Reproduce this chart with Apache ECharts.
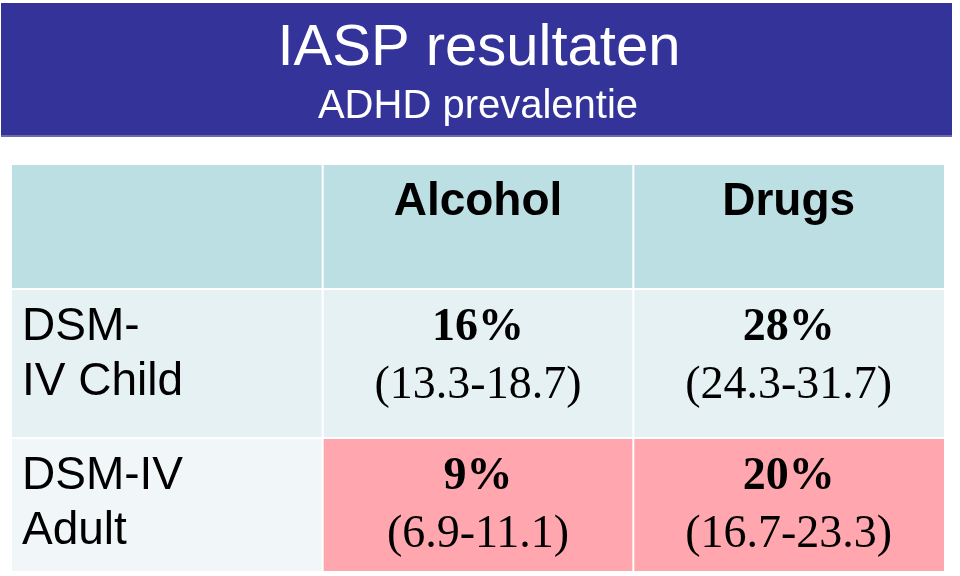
<!DOCTYPE html>
<html><head><meta charset="utf-8">
<script src="https://cdn.jsdelivr.net/npm/echarts@6/dist/echarts.min.js"></script>
<style>html,body{margin:0;padding:0;background:#fff}#chart{width:960px;height:576px}</style>
</head><body><div id="chart"></div>
<script>
// ---- data ----
const titleText = 'IASP resultaten';
const subtitleText = 'ADHD prevalentie';
const columnNames = ['', 'Alcohol', 'Drugs'];
const rowNames = ['DSM-\nIV Child', 'DSM-IV\nAdult'];
const alcoholPct = [16, 9];
const alcoholLow = [13.3, 6.9];
const alcoholHigh = [18.7, 11.1];
const drugsPct = [28, 20];
const drugsLow = [24.3, 16.7];
const drugsHigh = [31.7, 23.3];

// ---- layout / style ----
const rowTop = [0, 125, 274];
const rowBottom = [123, 272, 406];
const SANS = "'Liberation Sans', Arial, sans-serif";
const SERIF = "'Liberation Serif', 'Times New Roman', serif";
const fills = { header: '#bbdfe2', body: '#e5f1f3', label2: '#f1f7f9', highlight: '#ffa6ae' };

const pct = [alcoholPct, drugsPct], low = [alcoholLow, drugsLow], high = [alcoholHigh, drugsHigh];
const cells = [];
for (let c = 0; c < columnNames.length; c++) cells.push([c, 0]);
for (let r = 0; r < rowNames.length; r++)
  for (let c = 0; c < columnNames.length; c++) cells.push([c, r + 1]);

function renderCell(params, api) {
  const c = api.value(0), r = api.value(1);
  const cx = api.coord([c, 0])[0];
  const w = api.size([1, 0])[0];
  const yTop = api.coord([c, rowTop[r]])[1];
  const yBot = api.coord([c, rowBottom[r]])[1];
  const left = cx - w / 2 + (c > 0 ? 1 : 0);
  const right = cx + w / 2 - (c < 2 ? 1 : 0);
  let fill = fills.header;
  if (r === 1) fill = fills.body;
  if (r === 2) fill = c === 0 ? fills.label2 : fills.highlight;
  const children = [{
    type: 'rect',
    shape: { x: left, y: yTop, width: right - left, height: yBot - yTop },
    style: { fill: fill }
  }];
  if (r === 0) {
    if (columnNames[c]) children.push({
      type: 'text',
      style: { text: columnNames[c], x: cx, y: yTop + 37, align: 'center', verticalAlign: 'middle',
        fontFamily: SANS, fontWeight: 'bold', fontSize: 46, fill: '#000' }
    });
  } else if (c === 0) {
    children.push({
      type: 'text',
      style: { text: rowNames[r - 1], x: left + 10, y: yTop + 10, align: 'left', verticalAlign: 'top',
        fontFamily: SANS, fontSize: 46, lineHeight: 55, fill: '#000' }
    });
  } else {
    const i = r - 1, k = c - 1;
    children.push({
      type: 'text',
      style: {
        text: '{b|' + pct[k][i] + '%}\n{n|(' + low[k][i].toFixed(1) + '-' + high[k][i].toFixed(1) + ')}',
        x: cx, y: yTop + 10, align: 'center', verticalAlign: 'top', fill: '#000',
        rich: {
          b: { fontFamily: SERIF, fontWeight: 'bold', fontSize: 46, lineHeight: 57, fill: '#000' },
          n: { fontFamily: SERIF, fontSize: 46, lineHeight: 57, fill: '#000' }
        }
      }
    });
  }
  return { type: 'group', children: children };
}

const chart = echarts.init(document.getElementById('chart'), null, { renderer: 'canvas' });
chart.setOption({
  animation: false,
  backgroundColor: '#ffffff',
  graphic: [
    { type: 'rect', shape: { x: 1, y: 3, width: 951, height: 133 }, style: { fill: '#333399' }, z: 1 },
    { type: 'rect', shape: { x: 1, y: 135, width: 951, height: 2 }, style: { fill: '#6b6bb0' }, z: 2 },
    { type: 'text', style: { text: titleText, x: 479, y: 49, align: 'center', verticalAlign: 'middle',
        fontFamily: SANS, fontSize: 58, fill: '#ffffff' }, z: 3 },
    { type: 'text', style: { text: subtitleText, x: 478, y: 107, align: 'center', verticalAlign: 'middle',
        fontFamily: SANS, fontSize: 40, fill: '#ffffff' }, z: 3 }
  ],
  grid: { left: 12, right: 16, top: 165, bottom: 5 },
  xAxis: { type: 'category', data: columnNames, show: false, boundaryGap: true },
  yAxis: { type: 'value', min: 0, max: 406, inverse: true, show: false },
  series: [{
    type: 'custom',
    renderItem: renderCell,
    data: cells,
    clip: false,
    silent: true
  }]
});
</script>
</body></html>
